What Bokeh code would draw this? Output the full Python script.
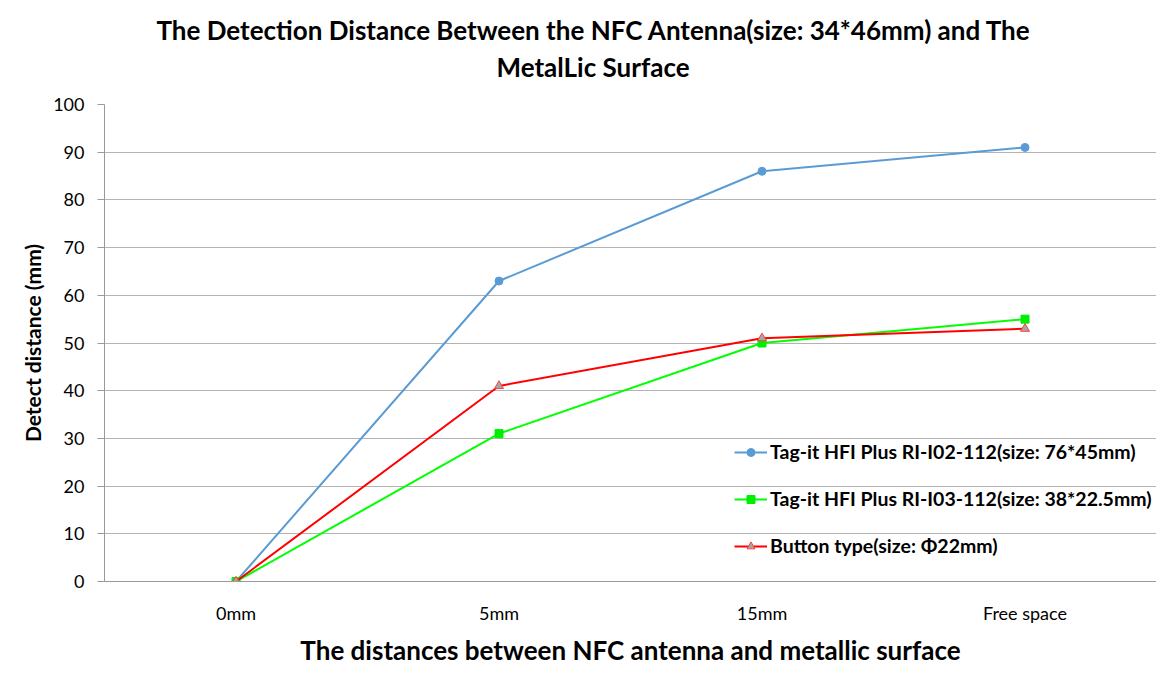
from bokeh.plotting import figure
from bokeh.models import Range1d, FactorRange, FixedTicker, Title, Legend, LegendItem
from bokeh.embed import file_html
from bokeh.resources import INLINE

categories = ["0mm", "5mm", "15mm", "Free space"]
blue_vals = [0, 63, 86, 91]
green_vals = [0, 31, 50, 55]
red_vals = [0, 41, 51, 53]
y_ticks = [0, 10, 20, 30, 40, 50, 60, 70, 80, 90, 100]
series_names = [
    "Tag-it HFI Plus RI-I02-112(size: 76*45mm)",
    "Tag-it HFI Plus RI-I03-112(size: 38*22.5mm)",
    "Button type(size: \u03a622mm)",
]
title_lines = ["The Detection Distance Between the NFC Antenna(size: 34*46mm) and The",
               "MetalLic Surface"]

FONT = "Lato"

p = figure(frame_width=1052, frame_height=477, x_range=FactorRange(*categories, range_padding=0),
           y_range=Range1d(0, 100), output_backend="svg", toolbar_location=None,
           min_border_left=104, min_border_right=0, min_border_top=104, min_border_bottom=80)
p.title.visible = False

t2 = Title(text=title_lines[1], align="left", offset=392, text_font=FONT, text_font_size="26px",
           text_font_style="bold", text_color="#000000", standoff=43)
t1 = Title(text=title_lines[0], align="left", offset=52, text_font=FONT, text_font_size="26px",
           text_font_style="bold", text_color="#000000", standoff=-37)
p.add_layout(t2, "above")
p.add_layout(t1, "above")

p.outline_line_color = None
p.xgrid.grid_line_color = None
p.ygrid.grid_line_color = "#b3b3b3"
p.ygrid.grid_line_width = 1

p.yaxis.ticker = FixedTicker(ticks=y_ticks)
p.yaxis.axis_line_color = "#999999"
p.yaxis.major_tick_line_color = "#999999"
p.yaxis.major_tick_in = 0
p.yaxis.major_tick_out = 7
p.yaxis.minor_tick_line_color = None
p.yaxis.major_label_standoff = 13
p.yaxis.major_label_text_font = FONT
p.yaxis.major_label_text_font_size = "18px"
p.yaxis.major_label_text_color = "#000000"
p.yaxis.axis_label = "Detect distance (mm)"
p.yaxis.axis_label_text_font = FONT
p.yaxis.axis_label_text_font_size = "21px"
p.yaxis.axis_label_text_font_style = "bold"
p.yaxis.axis_label_text_color = "#000000"
p.yaxis.axis_label_standoff = 5

p.xaxis.axis_line_color = "#999999"
p.xaxis.major_tick_line_color = None
p.xaxis.minor_tick_line_color = None
p.xaxis.major_label_text_font = FONT
p.xaxis.major_label_text_font_size = "18px"
p.xaxis.major_label_text_color = "#000000"
p.xaxis.major_label_standoff = 14
p.xaxis.axis_label = "The distances between NFC antenna and metallic surface"
p.xaxis.axis_label_text_font = FONT
p.xaxis.axis_label_text_font_size = "26px"
p.xaxis.axis_label_text_font_style = "bold"
p.xaxis.axis_label_text_color = "#000000"
p.xaxis.axis_label_standoff = 7

l1 = p.line(categories, blue_vals, line_color="#5b9bd5", line_width=2)
m1 = p.scatter(categories, blue_vals, marker="circle", size=8, fill_color="#5b9bd5", line_color="#5b9bd5")
l2 = p.line(categories, green_vals, line_color="#00ff00", line_width=2)
m2 = p.scatter(categories, green_vals, marker="square", size=8, fill_color="#00ee00", line_color="#00ee00")
l3 = p.line(categories, red_vals, line_color="#ff0000", line_width=2)
m3 = p.scatter(categories, red_vals, marker="triangle", size=9, fill_color="#a6a6a6", line_color="#ff4040", line_width=1)

legend = Legend(items=[
    LegendItem(label=series_names[0], renderers=[l1, m1]),
    LegendItem(label=series_names[1], renderers=[l2, m2]),
    LegendItem(label=series_names[2], renderers=[l3, m3]),
], location=(630, 24), orientation="vertical")
legend.background_fill_alpha = 0
legend.border_line_color = None
legend.padding = 0
legend.margin = 0
legend.spacing = 24
legend.glyph_width = 33
legend.glyph_height = 20
legend.label_height = 20
legend.label_standoff = 3
legend.label_text_font = FONT
legend.label_text_font_size = "19.5px"
legend.label_text_font_style = "bold"
legend.label_text_color = "#000000"
p.add_layout(legend, "center")

open("out.html", "w").write(file_html(p, INLINE))
